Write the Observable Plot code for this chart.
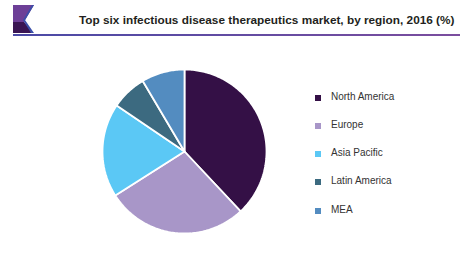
<!DOCTYPE html>
<html><head><meta charset="utf-8">
<script src="https://cdn.jsdelivr.net/npm/d3@7"></script>
<script src="https://cdn.jsdelivr.net/npm/@observablehq/plot@0.6"></script>
<style>
body{margin:0;background:#fff;font-family:"Liberation Sans",Arial,sans-serif;}
#wrap{position:relative;width:460px;height:260px;overflow:hidden;}
#hdr{position:absolute;left:0;top:0;width:460px;height:40px;}
#title{position:absolute;left:79px;top:13px;font-weight:bold;font-size:11.8px;color:#231f20;white-space:nowrap;}
#legend{position:absolute;left:315px;top:90.5px;font-size:10px;color:#333;}
.li{height:28.3px;display:flex;align-items:flex-start;}
.sw{width:6px;height:6px;margin-top:4px;margin-right:10px;}
</style></head>
<body>
<div id="wrap">
<div id="chart"></div>
<svg id="hdr" width="460" height="40">
<defs><linearGradient id="g" x1="0" x2="1"><stop offset="0" stop-color="#4a4aa6"/><stop offset="1" stop-color="#7b4d9e"/></linearGradient></defs>
<polygon points="13,5 34,5 24,22 33,33 13,33" fill="#6d3f97"/>
<polygon points="13,33 33,33 24,22 13,22" fill="#3a1553"/>
<polygon points="34,5 25,20 34,33 31,33 23,20 32,5" fill="#3b4fa8"/>
<rect x="13" y="34" width="447" height="2" fill="url(#g)"/>
</svg>
<div id="title">Top six infectious disease therapeutics market, by region, 2016 (%)</div>
<div id="legend"></div>
</div>
<script>
const regions = ["North America", "Europe", "Asia Pacific", "Latin America", "MEA"];
const shares = [38, 28, 18.5, 7, 8.5];
const colors = ["#341046", "#a896c8", "#5bc8f5", "#3c6a80", "#538cc0"];

const total = d3.sum(shares);
const pts = [];
let start = 0;
regions.forEach((r, i) => {
  const a0 = start / total * 2 * Math.PI;
  const a1 = (start + shares[i]) / total * 2 * Math.PI;
  start += shares[i];
  pts.push({region: r, x: 0, y: 0});
  const n = Math.max(4, Math.ceil((a1 - a0) / (Math.PI / 180)));
  for (let k = 0; k <= n; k++) {
    const a = a0 + (a1 - a0) * k / n;
    pts.push({region: r, x: Math.sin(a), y: Math.cos(a)});
  }
  pts.push({region: r, x: 0, y: 0});
});

const chart = Plot.plot({
  width: 460, height: 260,
  marginLeft: 102, marginRight: 194, marginTop: 69, marginBottom: 27,
  x: {domain: [-1, 1], axis: null},
  y: {domain: [-1, 1], axis: null},
  color: {domain: regions, range: colors},
  marks: [
    Plot.line(pts, {x: "x", y: "y", z: "region", fill: "region", stroke: "white", strokeWidth: 1.8, strokeLinejoin: "miter"})
  ]
});
document.getElementById("chart").appendChild(chart);

const leg = document.getElementById("legend");
regions.forEach((r, i) => {
  const d = document.createElement("div");
  d.className = "li";
  d.innerHTML = `<span class="sw" style="background:${colors[i]}"></span><span>${r}</span>`;
  leg.appendChild(d);
});
</script>
</body></html>
